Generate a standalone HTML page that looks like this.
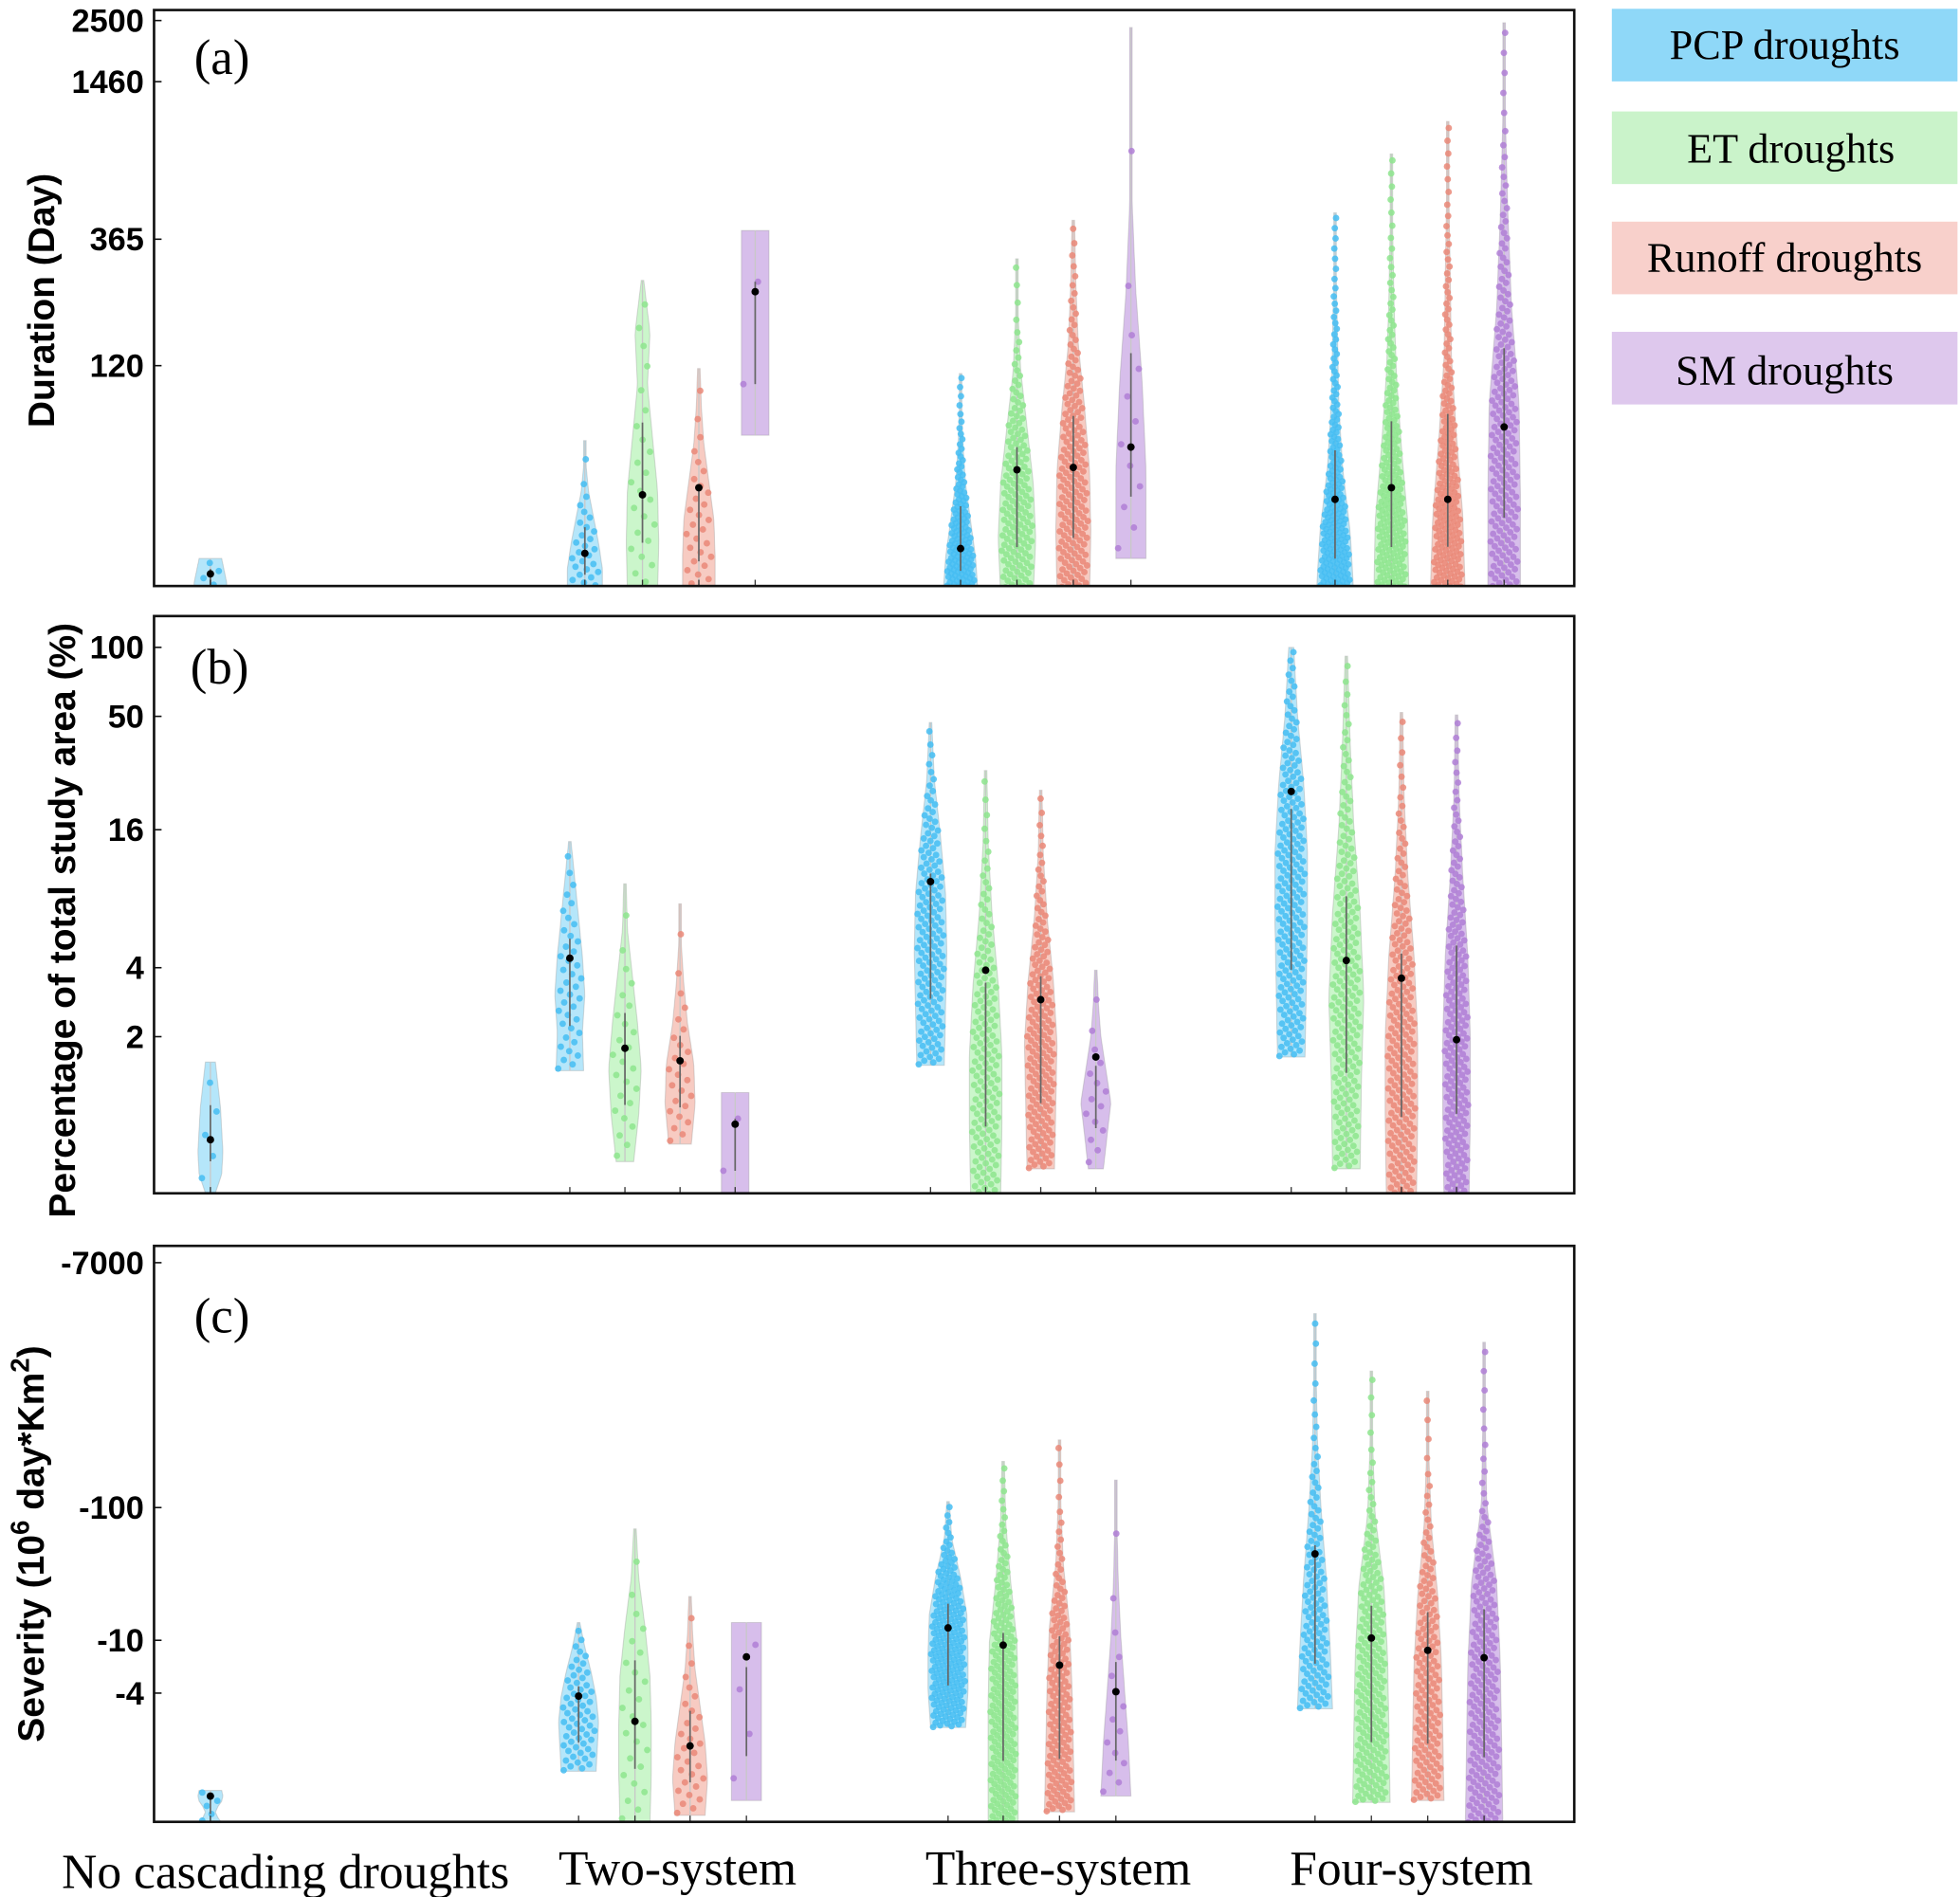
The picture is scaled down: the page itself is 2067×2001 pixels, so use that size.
<!DOCTYPE html>
<html><head><meta charset="utf-8"><style>
html,body{margin:0;padding:0;background:#fff;}
svg{display:block;}
</style></head><body>
<svg id="chart" width="2067" height="2001" viewBox="0 0 1565 1515" xmlns="http://www.w3.org/2000/svg">
<g id="legend">
 <rect x="1287" y="7" width="276" height="58" fill="#8fd8f8"/>
 <text x="1425" y="47" text-anchor="middle" font-family="Liberation Serif, serif" font-size="33.5">PCP droughts</text>
 <rect x="1287" y="89" width="276" height="58" fill="#caf3ca"/>
 <text x="1430" y="130" text-anchor="middle" font-family="Liberation Serif, serif" font-size="33.5">ET droughts</text>
 <rect x="1287" y="177" width="276" height="58" fill="#f8d0cb"/>
 <text x="1425" y="217" text-anchor="middle" font-family="Liberation Serif, serif" font-size="33.5">Runoff droughts</text>
 <rect x="1287" y="265" width="276" height="58" fill="#dec8ed"/>
 <text x="1425" y="307" text-anchor="middle" font-family="Liberation Serif, serif" font-size="33.5">SM droughts</text>
</g>
<g id="plots"></g>
<g font-family="Liberation Serif, serif" font-size="39" text-anchor="middle">
 <text x="228" y="1508">No cascading droughts</text>
 <text x="541" y="1505">Two-system</text>
 <text x="845" y="1505">Three-system</text>
 <text x="1127" y="1505">Four-system</text>
</g>
</svg>
<script>
// ---- data: categories / series ----
const categories = ["No cascading droughts","Two-system","Three-system","Four-system"];
const seriesNames = ["PCP","ET","Runoff","SM"];
// violins listed: NoC-PCP, Two(PCP,ET,RO,SM), Three(PCP,ET,RO,SM), Four(PCP,ET,RO,SM)
const durMin = [16,16,16,16,65,16,16,16,22,16,16,16,16];
const durMax = [22,62,254,117,394,112,307,431,2350,460,773,1028,2450];
const durMed = [19.2,23,38.5,41,230,24,48,49,58.6,37,41,37,70];
const durCount = [5,30,25,30,2,140,150,170,12,200,200,200,200];
const durProfile = [[12,13,13,12,11,10,9],[14,14,11,7,3,1,1],[12,13,12,8,4,6,1],[13,13,12,8,4,2,1],[11,11,11,11,11,11,11],
 [14,12,8,4,2,1,1],[13,15,13,8,3,1,1],[13,14,13,9,4,2,1],[12,12,9,4,1,1,1],
 [15,12,6,3,2,1,1],[14,13,8,4,2,1,1],[14,12,7,3,2,1,1],[13,13,12,6,3,1,1]];
const areaMin = [0.4,1.42,0.57,0.68,0.4,1.5,0.4,0.53,0.53,1.63,0.53,0.4,0.4];
const areaMax = [1.55,14.2,9.3,7.6,1.14,47,29,23.8,3.9,100,91.6,52,50.7];
const areaMed = [0.71,4.4,1.78,1.57,0.83,9.5,3.9,2.9,1.63,23.5,4.3,3.6,1.94];
const areaCount = [5,40,25,25,2,150,150,170,15,200,200,200,200];
const areaProfile = [[3,9,10,9,8,6,4],[11,10,12,10,7,4,1],[7,11,13,10,6,2,1],[9,12,11,6,3,1,1],[11,11,11,11,11,11,11],
 [11,12,13,12,8,3,1],[12,13,13,10,5,2,1],[11,12,13,10,5,2,1],[6,9,12,8,4,2,1],
 [11,12,13,13,10,5,2],[11,12,14,11,6,3,1],[12,13,13,10,5,2,1],[10,11,11,9,5,2,1]];
const sevMin = [-0.42,-1.03,-0.42,-0.48,-0.62,-2.2,-0.42,-0.51,-0.67,-3.05,-0.6,-0.62,-0.42];
const sevMax = [-0.74,-13.6,-69,-21.4,-13.6,-111,-223,-323,-161,-2890,-1067,-752,-1760];
const sevMed = [-0.67,-3.8,-2.45,-1.6,-7.5,-12.4,-9.2,-6.5,-4.1,-44.8,-10.4,-8.4,-7.4];
const sevCount = [6,60,25,30,4,200,200,150,15,120,200,150,200];
const sevProfile = [[9,6,4,6,9,10,9],[14,15,16,14,10,5,1],[12,13,13,12,8,3,1],[12,14,12,8,4,2,1],[12,12,12,12,12,12,12],
 [14,16,16,15,10,3,1],[12,12,12,11,6,2,1],[12,11,10,8,3,1,1],[12,10,7,4,2,1,1],
 [14,12,9,5,2,1,1],[15,14,13,10,3,1,1],[13,12,11,8,3,1,1],[15,14,13,10,2,1,1]];
const seriesOf = [0,0,1,2,3,0,1,2,3,0,1,2,3];
const durTicks = [2500,1460,365,120];
const areaTicks = [100,50,16,4,2];
const sevTicks = [-7000,-100,-10,-4];

// ---- layout (not data) ----
const fills = ["rgba(90,200,245,0.45)","rgba(140,235,140,0.45)","rgba(238,140,120,0.45)","rgba(175,125,215,0.5)"];
const dotCols = ["#45bdf2","#8ee58e","#ea8878","#b07fd6"];
const NS = "http://www.w3.org/2000/svg";
const panels = [
 {id:"a",label:"(a)",top:8,bottom:468,lx:155,ly:59,xs:[168,467,513,558,603,767,812,857,903,1066,1111,1156,1201],
  y:v=>292-209*Math.log10(v/120),mn:durMin,mx:durMax,md:durMed,ct:durCount,pr:durProfile,ticks:durTicks,title:"Duration (Day)",tx:43,ty:240},
 {id:"b",label:"(b)",top:492,bottom:953,lx:152,ly:546,xs:[168,455,499,543,587,743,787,831,875,1031,1075,1119,1163],
  y:v=>517+183*Math.log10(100/v),mn:areaMin,mx:areaMax,md:areaMed,ct:areaCount,pr:areaProfile,ticks:areaTicks,title:"Percentage of total study area (%)",tx:60,ty:735},
 {id:"c",label:"(c)",top:995,bottom:1455,lx:155,ly:1064,xs:[168,462,507,551,596,757,801,846,891,1050,1095,1140,1185],
  y:v=>1204+106*Math.log10(100/Math.abs(v)),mn:sevMin,mx:sevMax,md:sevMed,ct:sevCount,pr:sevProfile,ticks:sevTicks,title:"SEV",tx:35,ty:1233}
];
const L=123,R=1257;
const root=document.getElementById("plots");
function el(tag,attrs,parent){const e=document.createElementNS(NS,tag);for(const k in attrs)e.setAttribute(k,attrs[k]);(parent||root).appendChild(e);return e;}
function hwAt(p,t){const s=t*(p.length-1);const i=Math.min(Math.floor(s),p.length-2);const f=s-i;return p[i]*(1-f)+p[i+1]*f;}
function invCdf(p,u){const N=200;let cum=[0];for(let i=1;i<=N;i++){cum.push(cum[i-1]+hwAt(p,(i-0.5)/N));}
 const tot=cum[N];for(let i=1;i<=N;i++){if(cum[i]>=u*tot){return (i-1+(u*tot-cum[i-1])/(cum[i]-cum[i-1]))/N;}}return 1;}

panels.forEach(P=>{
 const g=el("g",{});
 
 
 const clipId="clip"+P.id;
 const cp=el("clipPath",{id:clipId},g);el("rect",{x:L,y:P.top,width:R-L,height:P.bottom-P.top},cp);
 const plot=el("g",{"clip-path":"url(#"+clipId+")"},g);
 
 
 P.xs.forEach((cx,k)=>{
  const s=seriesOf[k];const prof=P.pr[k];
  const y0=P.y(P.mn[k]),y1=P.y(P.mx[k]);
  const vg=el("g",{},plot);
  
  
  let pts=[];const n=40;
  for(let i=0;i<=n;i++){const t=i/n;pts.push([cx+hwAt(prof,t),y0+(y1-y0)*t]);}
  for(let i=n;i>=0;i--){const t=i/n;pts.push([cx-hwAt(prof,t),y0+(y1-y0)*t]);}
  const body=el("polygon",{points:pts.map(p=>p[0].toFixed(1)+","+p[1].toFixed(1)).join(" "),fill:fills[s],stroke:"rgba(150,150,150,0.35)","stroke-width":0.8},vg);
  
  
  const wh=el("line",{x1:cx,x2:cx,y1:y0,y2:y1,stroke:"#c8c8c8","stroke-width":1},vg);
  
  
  const dots=el("g",{fill:dotCols[s],"fill-opacity":0.85},vg);
  
  
  const N=P.ct[k];
  for(let i=0;i<N;i++){const u=(i+0.5)/N;const t=invCdf(prof,u);const yy=y0+(y1-y0)*t;
   const fr=(i*0.61803398875)%1;const xx=cx+hwAt(prof,t)*(2*fr-1)*0.85;
   const c=el("circle",{cx:xx.toFixed(1),cy:yy.toFixed(1),r:2.6},dots);
   
   }
  const tq1=invCdf(prof,0.25),tq3=invCdf(prof,0.75);
  const iqr=el("line",{x1:cx,x2:cx,y1:y0+(y1-y0)*tq1,y2:y0+(y1-y0)*tq3,stroke:"#666","stroke-width":1.3},vg);
  
  
  const md=el("circle",{cx:cx,cy:P.y(P.md[k]),r:3,fill:"#000"},vg);
  
  
  const tk=el("line",{x1:cx,x2:cx,y1:P.bottom,y2:P.bottom-5,stroke:"#333","stroke-width":1},g);
  
  
 });
 const fr=el("rect",{x:L,y:P.top,width:R-L,height:P.bottom-P.top,fill:"none",stroke:"#111","stroke-width":2},g);
 
 
 P.ticks.forEach(v=>{const yy=P.y(v);
  const tl=el("line",{x1:L,x2:L+6,y1:yy,y2:yy,stroke:"#111","stroke-width":1.2},g);
  
  
  const tt=el("text",{x:L-8,y:yy+9,"text-anchor":"end","font-family":"Liberation Sans, sans-serif","font-weight":"bold","font-size":26},g);
  tt.textContent=String(v);
  
  });
 const lab=el("text",{x:P.lx,y:P.ly,"font-family":"Liberation Serif, serif","font-size":40},g);
 lab.textContent=P.label;
 
 
 const ti=el("text",{transform:"translate("+P.tx+","+P.ty+") rotate(-90)","text-anchor":"middle","font-family":"Liberation Sans, sans-serif","font-weight":"bold","font-size":29.5},g);
 if(P.title==="SEV"){ti.innerHTML='Severity (10<tspan dy="-12" font-size="21">6</tspan><tspan dy="12"> day*Km</tspan><tspan dy="-12" font-size="21">2</tspan><tspan dy="12">)</tspan>';}
 else ti.textContent=P.title;
 
 
});
</script>
</body></html>
